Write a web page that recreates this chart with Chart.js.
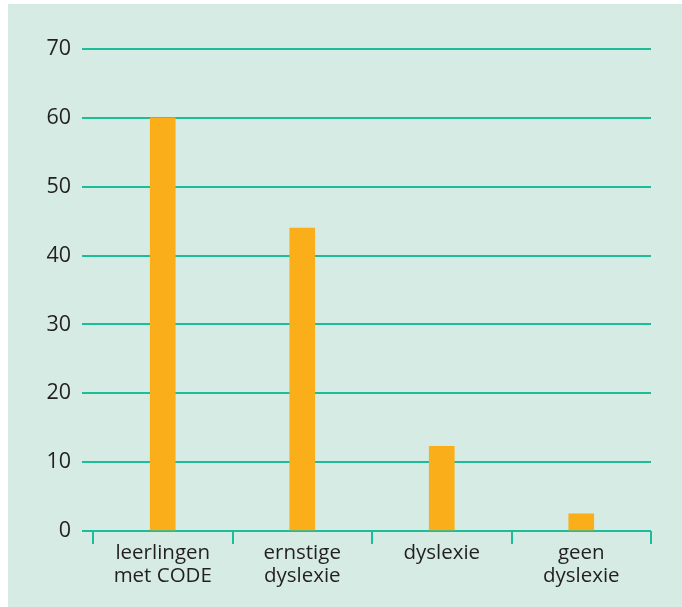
<!DOCTYPE html>
<html>
<head>
<meta charset="utf-8">
<script src="https://cdn.jsdelivr.net/npm/chart.js@4.4.1/dist/chart.umd.min.js"></script>
<style>
  body { margin: 0; background-color: #fff; }
  #wrap { position: absolute; left: 8px; top: 4px; width: 674px; height: 603px; background-color: #d6ebe4; }
</style>
</head>
<body>
<div id="wrap"><canvas id="barChart" width="674" height="603"></canvas></div>
<script>
const categories = [['leerlingen', 'met CODE'], ['ernstige', 'dyslexie'], 'dyslexie', ['geen', 'dyslexie']];
const values = [60, 44, 12.3, 2.5];
const yTicks = [0, 10, 20, 30, 40, 50, 60, 70];

const teal = '#1dbd9b';

document.addEventListener('DOMContentLoaded', function() {
  const ctx = document.getElementById('barChart').getContext('2d');
  new Chart(ctx, {
    type: 'bar',
    data: {
      labels: categories,
      datasets: [{
        data: values,
        backgroundColor: '#f9ae1a',
        borderWidth: 0,
        barThickness: 25
      }]
    },
    options: {
      responsive: false,
      animation: false,
      layout: { padding: { top: 45, right: 31, left: 0, bottom: 0 } },
      plugins: { legend: { display: false }, tooltip: { enabled: false } },
      scales: {
        x: {
          grid: { drawOnChartArea: false, color: teal, lineWidth: 2, tickLength: 13, offset: true },
          border: { display: false },
          ticks: {
            color: '#231f20',
            padding: -2,
            maxRotation: 0,
            font: { family: 'Open Sans', size: 20.5, lineHeight: 1.1 }
          },
          afterFit: function(scale) { scale.height = 76; }
        },
        y: {
          min: 0,
          max: 70,
          afterBuildTicks: function(scale) { scale.ticks = yTicks.map(v => ({ value: v })); },
          grid: { color: teal, lineWidth: 2, tickLength: 11 },
          border: { display: false },
          ticks: {
            color: '#231f20',
            padding: 11,
            font: { family: 'Open Sans', size: 21.5 }
          },
          afterFit: function(scale) { scale.width = 85; }
        }
      }
    }
  });
});
</script>
</body>
</html>
